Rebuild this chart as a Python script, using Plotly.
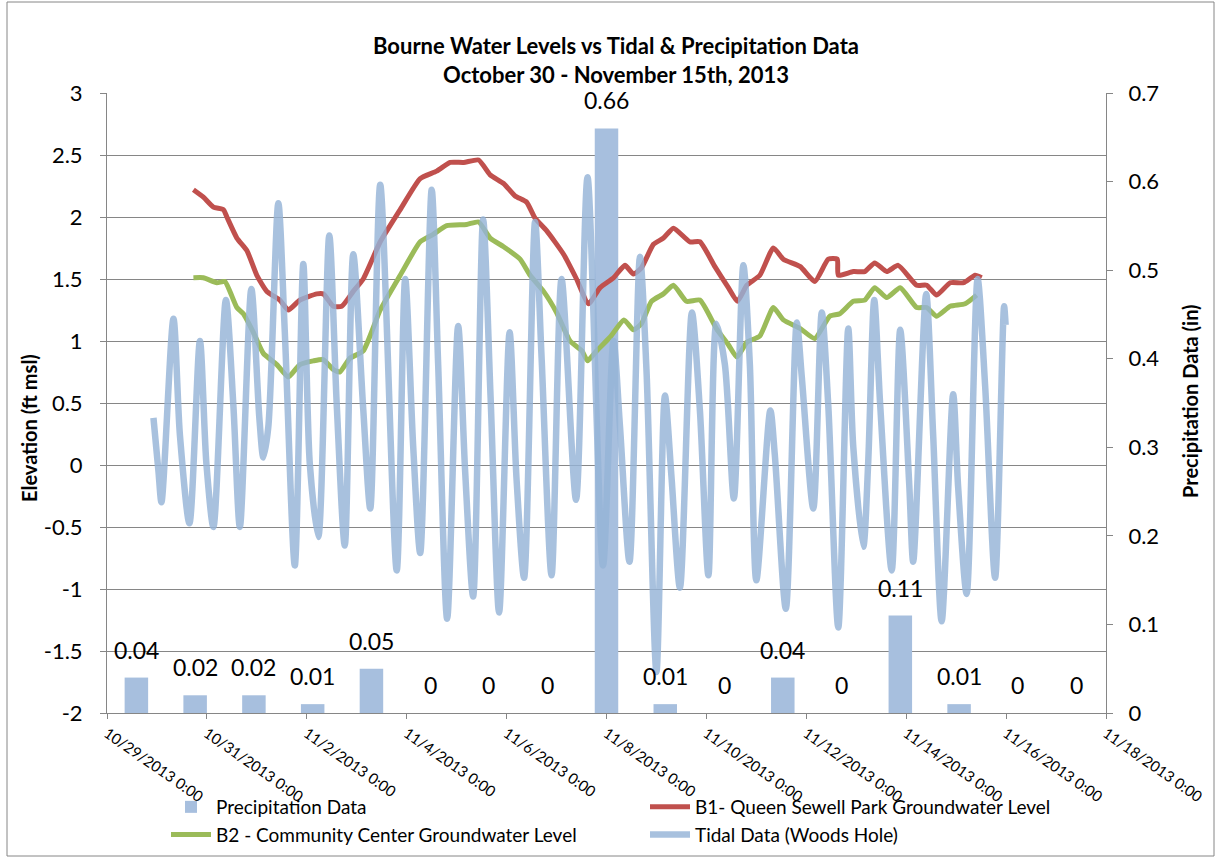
import pandas as pd
import plotly.graph_objects as go

# ---------------- data ----------------
precip_days = ["10/29", "10/30", "10/31", "11/1", "11/2", "11/3", "11/4", "11/5", "11/6",
               "11/7", "11/8", "11/9", "11/10", "11/11", "11/12", "11/13", "11/14"]
precip_in = [0.04, 0.02, 0.02, 0.01, 0.05, 0, 0, 0, 0.66, 0.01, 0, 0.04, 0, 0.11, 0.01, 0, 0]

# days since 2013-10-29 00:00
b1_day = [1.73, 1.93, 2.13, 2.33, 2.40, 2.60, 2.80, 3.00, 3.20, 3.46, 3.63, 3.86, 4.20, 4.33, 4.53,
          4.70, 4.93, 5.13, 5.47, 5.87, 6.27, 6.60, 6.87, 7.14, 7.44, 7.67, 7.94, 8.17, 8.40, 8.57,
          8.80, 9.14, 9.40, 9.64, 9.87, 10.14, 10.37, 10.54, 10.70, 10.94, 11.14, 11.34, 11.67,
          11.87, 12.17, 12.44, 12.62, 12.81, 13.07, 13.34, 13.54, 13.88, 14.17, 14.44, 14.62,
          14.64, 14.94, 15.17, 15.37, 15.61, 15.84, 16.21, 16.41, 16.61, 16.88, 17.15, 17.38, 17.51]
b1_val = [2.22, 2.16, 2.08, 2.06, 2.00, 1.83, 1.73, 1.53, 1.40, 1.33, 1.25, 1.33, 1.38, 1.38, 1.28,
          1.28, 1.40, 1.50, 1.80, 2.06, 2.31, 2.37, 2.44, 2.44, 2.46, 2.34, 2.27, 2.17, 2.12, 1.99,
          1.89, 1.70, 1.50, 1.30, 1.43, 1.51, 1.61, 1.54, 1.59, 1.78, 1.83, 1.91, 1.80,
          1.80, 1.60, 1.43, 1.32, 1.45, 1.53, 1.75, 1.66, 1.60, 1.48, 1.66, 1.66,
          1.53, 1.56, 1.56, 1.63, 1.56, 1.61, 1.45, 1.45, 1.37, 1.47, 1.47, 1.53, 1.51]

b2_day = [1.73, 1.93, 2.20, 2.36, 2.60, 2.73, 2.93, 3.13, 3.40, 3.63, 3.86, 4.13, 4.33, 4.53, 4.66,
          4.86, 5.13, 5.47, 5.87, 6.27, 6.53, 6.80, 7.20, 7.44, 7.67, 7.94, 8.27, 8.47, 8.74, 9.00,
          9.27, 9.51, 9.62, 9.80, 10.07, 10.35, 10.54, 10.70, 10.90, 11.14, 11.34, 11.60, 11.87,
          12.20, 12.44, 12.61, 12.81, 13.07, 13.34, 13.54, 13.88, 14.17, 14.47, 14.67, 14.94,
          15.17, 15.37, 15.61, 15.88, 16.21, 16.41, 16.61, 16.88, 17.18, 17.41]
b2_val = [1.51, 1.51, 1.47, 1.48, 1.27, 1.22, 1.07, 0.90, 0.81, 0.71, 0.81, 0.84, 0.85, 0.77, 0.75,
          0.86, 0.92, 1.25, 1.53, 1.80, 1.86, 1.93, 1.94, 1.96, 1.83, 1.76, 1.66, 1.53, 1.40, 1.23,
          1.00, 0.92, 0.84, 0.92, 1.03, 1.17, 1.09, 1.14, 1.32, 1.38, 1.45, 1.32, 1.33,
          1.10, 0.97, 0.87, 0.99, 1.04, 1.27, 1.17, 1.10, 1.02, 1.20, 1.22, 1.32,
          1.33, 1.43, 1.35, 1.43, 1.27, 1.27, 1.20, 1.28, 1.30, 1.37]

tide_day = [0.93, 1.03, 1.09, 1.33, 1.46, 1.65, 1.86, 1.99, 2.13, 2.38, 2.53, 2.66, 2.89, 3.05, 3.13,
            3.23, 3.43, 3.56, 3.76, 3.93, 4.06, 4.23, 4.45, 4.60, 4.76, 4.93, 5.13, 5.27, 5.47, 5.80,
            5.97, 6.13, 6.27, 6.50, 6.63, 6.81, 7.03, 7.17, 7.33, 7.53, 7.68, 7.85, 8.06, 8.20, 8.35,
            8.57, 8.70, 8.90, 9.10, 9.39, 9.62, 9.93, 10.14, 10.27, 10.46, 10.67, 10.80, 11.00, 11.17,
            11.30, 11.47, 11.71, 11.87, 12.04, 12.20, 12.37, 12.55, 12.74, 12.87, 13.00, 13.28, 13.37,
            13.59, 13.81, 13.91, 14.14, 14.31, 14.44, 14.64, 14.84, 14.94, 15.14, 15.24, 15.36, 15.48,
            15.71, 15.88, 16.06, 16.14, 16.40, 16.54, 16.71, 16.94, 17.04, 17.21, 17.43, 17.58, 17.78,
            17.96, 17.99]
tide_val = [0.38, -0.05, -0.30, 1.18, 0.24, -0.47, 1.00, 0.01, -0.50, 1.33, 0.48, -0.50, 1.42, 0.38, 0.06,
            0.31, 2.11, 1.07, -0.81, 1.62, 0.01, -0.58, 1.85, 0.48, -0.65, 1.70, 0.45, -0.35, 2.26, -0.85,
            1.50, 0.15, -0.71, 2.22, 0.81, -1.24, 1.12, -0.05, -1.06, 1.98, 0.54, -1.19, 1.07, -0.12, -0.91,
            1.96, 0.87, -0.89, 1.50, -0.28, 2.32, -0.81, 1.00, 0.31, -0.78, 1.68, 0.77, -1.67, 0.56,
            -0.09, -0.99, 1.23, 0.44, -0.89, 1.14, 0.81, -0.27, 1.61, 0.81, -0.93, 0.44, 0.08,
            -1.16, 1.15, 0.71, -0.35, 1.23, 0.48, -1.31, 1.10, 0.15, -0.66, 0.03, 1.33, 0.48,
            -0.85, 1.09, -0.15, -0.78, 1.38, 0.24, -1.26, 0.57, -0.18, -1.04, 1.50, 0.64, -0.91,
            1.28, 1.13]

elev_ticks = [-2, -1.5, -1, -0.5, 0, 0.5, 1, 1.5, 2, 2.5, 3]
elev_labels = ["-2", "-1.5", "-1", "-0.5", "0", "0.5", "1", "1.5", "2", "2.5", "3"]

base = pd.Timestamp("2013-10-29 00:00")


def to_dates(days):
    return [base + pd.to_timedelta(d, unit="D") for d in days]


FONT = "Lato"
W, H = 1217, 859
L, R, T, B = 107, 1106, 93, 713


def px(x):
    return (x - L) / (R - L)


def py(y):
    return 1 - (y - T) / (B - T)


fig = go.Figure()

fig.add_trace(go.Bar(
    x=precip_days, y=precip_in, name="Precipitation Data",
    marker=dict(color="rgb(167,191,222)", line=dict(width=0)),
    width=0.4, xaxis="x", yaxis="y",
))

fig.add_trace(go.Scatter(
    x=to_dates(b1_day), y=b1_val, mode="lines", name="B1- Queen Sewell Park Groundwater Level",
    line=dict(color="rgb(192,80,77)", width=5, shape="spline", smoothing=0.5),
    xaxis="x2", yaxis="y2",
))
fig.add_trace(go.Scatter(
    x=to_dates(b2_day), y=b2_val, mode="lines", name="B2 - Community Center Groundwater Level",
    line=dict(color="rgb(155,187,89)", width=5, shape="spline", smoothing=0.5),
    xaxis="x2", yaxis="y2",
))
fig.add_trace(go.Scatter(
    x=to_dates(tide_day), y=tide_val, mode="lines", name="Tidal Data (Woods Hole)",
    line=dict(color="rgba(149,179,215,0.82)", width=6.5, shape="spline", smoothing=0.8),
    xaxis="x2", yaxis="y2",
))

axis_grey = "#868686"

annotations = [
    dict(x=c, y=v, xref="x", yref="y", text=f"{v:g}", showarrow=False,
         yanchor="middle", yshift=28, font=dict(family=FONT, size=23, color="black"))
    for c, v in zip(precip_days, precip_in)
]
annotations += [
    dict(x=px(29), y=py(428), xref="paper", yref="paper", text="<b>Elevation (ft msl)</b>",
         textangle=-90, showarrow=False, xanchor="center", yanchor="middle",
         font=dict(family=FONT, size=20, color="black")),
    dict(x=px(1190), y=py(401), xref="paper", yref="paper", text="<b>Precipitation Data (in)</b>",
         textangle=-90, showarrow=False, xanchor="center", yanchor="middle",
         font=dict(family=FONT, size=20, color="black")),
]

fig.update_layout(
    width=W, height=H,
    margin=dict(l=L, r=W - R, t=T, b=H - B, autoexpand=False),
    paper_bgcolor="white", plot_bgcolor="white",
    font=dict(family=FONT, size=18, color="black"),
    title=dict(
        text="<b>Bourne Water Levels vs Tidal &amp; Precipitation Data<br>October 30 - November 15th, 2013</b>",
        x=616 / W, xanchor="center", y=1 - 54 / H, yanchor="middle",
        font=dict(family=FONT, size=22, color="black"),
    ),
    showlegend=True,
    legend=dict(
        orientation="h", x=px(166), xanchor="left", y=py(788), yanchor="top",
        entrywidth=424, entrywidthmode="pixels", bgcolor="rgba(0,0,0,0)",
        font=dict(family=FONT, size=19, color="black"),
        traceorder="normal", itemwidth=40,
    ),
    xaxis=dict(
        type="category", range=[-0.5, len(precip_days) - 0.5],
        showticklabels=False, showline=False, showgrid=False, ticks="", zeroline=False,
    ),
    yaxis=dict(
        range=[0, 0.7], dtick=0.1, side="right", showgrid=False, zeroline=False,
        showline=True, linecolor=axis_grey, linewidth=1, ticks="outside", ticklen=6,
        tickcolor=axis_grey, tickfont=dict(family=FONT, size=22), ticklabelstandoff=11,
    ),
    xaxis2=dict(
        overlaying="x", side="bottom", type="date",
        range=[pd.Timestamp("2013-10-29"), pd.Timestamp("2013-11-18")],
        tick0="2013-10-29", dtick=2 * 86400000, tickformat="%-m/%-d/%Y %-H:%M",
        tickangle=35, showgrid=False, zeroline=False,
        showline=True, linecolor=axis_grey, linewidth=1, ticks="outside", ticklen=5,
        tickcolor=axis_grey, tickfont=dict(family=FONT, size=15),
    ),
    yaxis2=dict(
        overlaying="y", side="left", range=[-2, 3],
        tickmode="array", tickvals=elev_ticks, ticktext=elev_labels,
        showgrid=True, gridcolor=axis_grey, gridwidth=1, zeroline=False,
        showline=True, linecolor=axis_grey, linewidth=1, ticks="outside", ticklen=6,
        tickcolor=axis_grey, tickfont=dict(family=FONT, size=22), ticklabelstandoff=13,
    ),
    annotations=annotations,
    shapes=[dict(
        type="rect", xref="paper", yref="paper",
        x0=px(7), x1=px(1214), y0=py(856), y1=py(2),
        line=dict(color=axis_grey, width=1), fillcolor="rgba(0,0,0,0)", layer="below",
    )],
)

fig.write_html(
    "out.html",
    config={"displayModeBar": False},
    post_script="document.body.style.margin='0';document.body.style.overflow='hidden';",
)
